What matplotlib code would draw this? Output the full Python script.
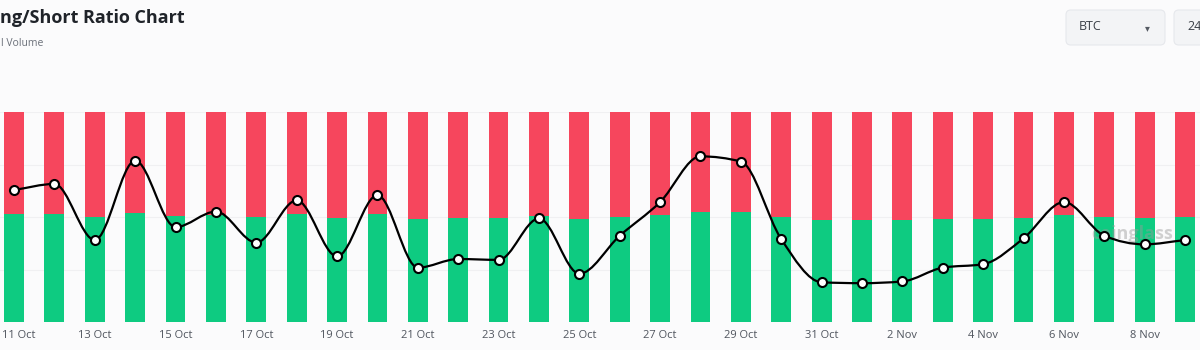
# Long/Short ratio chart (BTC, 24h) - bars for long/short share, smooth line for the ratio
import numpy as np
from matplotlib import pyplot as plt
from matplotlib import transforms
from matplotlib.path import Path
from matplotlib.patches import PathPatch, FancyBboxPatch

plt.rcParams['font.family'] = ['Open Sans', 'DejaVu Sans']

# --- data ---
dates = ['11 Oct', '12 Oct', '13 Oct', '14 Oct', '15 Oct', '16 Oct', '17 Oct', '18 Oct',
         '19 Oct', '20 Oct', '21 Oct', '22 Oct', '23 Oct', '24 Oct', '25 Oct', '26 Oct',
         '27 Oct', '28 Oct', '29 Oct', '30 Oct', '31 Oct', '1 Nov', '2 Nov', '3 Nov',
         '4 Nov', '5 Nov', '6 Nov', '7 Nov', '8 Nov', '9 Nov']
long_pct = [51.3, 51.4, 50.1, 52.0, 50.3, 51.0, 50.1, 51.4, 49.7, 51.3,
            49.0, 49.7, 49.7, 50.5, 48.9, 49.8, 51.0, 52.2, 52.2, 50.1,
            48.6, 48.6, 48.8, 48.9, 48.9, 49.7, 51.0, 50.1, 49.7, 50.1]
short_pct = [100 - v for v in long_pct]
ls_ratio = [1.053, 1.060, 0.995, 1.087, 1.010, 1.028, 0.992, 1.041, 0.976, 1.047,
            0.963, 0.973, 0.972, 1.020, 0.956, 1.000, 1.039, 1.092, 1.086, 0.996,
            0.946, 0.945, 0.947, 0.963, 0.967, 0.997, 1.039, 1.000, 0.990, 0.995]

GREEN = '#0ecb81'
RED = '#f6465d'
BG = '#fbfbfc'


def monotone_path(xs, ys):
    """Cubic bezier path through the points with monotone-x tangents (no overshoot)."""
    xs = np.asarray(xs, float)
    ys = np.asarray(ys, float)
    h = np.diff(xs)
    s = np.diff(ys) / h
    t = np.zeros_like(ys)
    t[0], t[-1] = s[0], s[-1]
    for i in range(1, len(ys) - 1):
        if s[i - 1] * s[i] <= 0:
            t[i] = 0.0
        else:
            p = (s[i - 1] + s[i]) / 2
            t[i] = np.sign(s[i]) * min(abs(s[i - 1]), abs(s[i]), 0.5 * abs(p)) * 2
    verts = [(xs[0], ys[0])]
    codes = [Path.MOVETO]
    for i in range(len(xs) - 1):
        d = h[i] / 3
        verts += [(xs[i] + d, ys[i] + d * t[i]),
                  (xs[i + 1] - d, ys[i + 1] - d * t[i + 1]),
                  (xs[i + 1], ys[i + 1])]
        codes += [Path.CURVE4] * 3
    return Path(verts, codes)


fig = plt.figure(figsize=(12, 3.5), dpi=100)
fig.patch.set_facecolor(BG)

ax = fig.add_axes([0, 28 / 350, 1, 210 / 350])
ax.set_facecolor(BG)
x = np.arange(len(dates))

ax.bar(x, long_pct, width=0.49, color=GREEN, zorder=2)
ax.bar(x, short_pct, bottom=long_pct, width=0.49, color=RED, zorder=2)
ax.set_ylim(0, 100)
ax.set_xlim(-0.347, 29.37)
for gy in [25, 50, 75, 100]:
    ax.axhline(gy, color='#f0f0f2', lw=0.8, zorder=1)

ax.set_xticks(x[::2])
ax.set_xticklabels(dates[::2], fontsize=8, color='#50555e')
ax.tick_params(axis='x', length=0, pad=6)
ax.set_yticks([])
for sp in ax.spines.values():
    sp.set_visible(False)
# first label sits on the left edge, nudge it in a bit so it is not clipped
first = ax.get_xticklabels()[0]
first.set_transform(first.get_transform() + transforms.ScaledTranslation(5 / 100, 0, fig.dpi_scale_trans))

# watermark
ax.text(27.7, 42, 'coinglass', fontsize=13, color='#9a9a9a', alpha=0.45,
        ha='center', va='center', zorder=3, fontweight='bold')

# ratio line on its own hidden axis
ax2 = ax.twinx()
ax2.set_ylim(0.900, 1.1434)
ax2.set_yticks([])
for sp in ax2.spines.values():
    sp.set_visible(False)
ax2.add_patch(PathPatch(monotone_path(x, ls_ratio), fill=False, ec='black', lw=1.6, zorder=4))
ax2.plot(x, ls_ratio, ls='none', marker='o', ms=6.5, mfc='white', mec='black', mew=1.5, zorder=5)

# header (the screenshot is cropped on the left, only this part is visible)
fig.text(0.5 / 1200, 1 - 18 / 350, 'ng/Short Ratio Chart', ha='left', va='center',
         fontsize=13, fontweight='bold', color='#1f2329')
fig.text(1 / 1200, 1 - 44 / 350, 'l Volume', ha='left', va='center',
         fontsize=7.5, color='#6b7079')

# dropdown boxes top right
asp = 1200 / 350
for x0, x1, label in [(1066, 1165, 'BTC'), (1174, 1230, '24')]:
    box = FancyBboxPatch((x0 / 1200, 1 - 45 / 350), (x1 - x0) / 1200, 35 / 350,
                         boxstyle='round,pad=0,rounding_size=0.004', mutation_aspect=asp,
                         transform=fig.transFigure, fc='#f3f4f6', ec='#e6e8ec', lw=0.8)
    fig.patches.append(box)
    fig.text((x0 + 13) / 1200, 1 - 27 / 350, label, ha='left', va='center',
             fontsize=9, color='#3a3f47')
fig.text(1147 / 1200, 1 - 28 / 350, '▾', ha='center', va='center', fontsize=7,
         color='#555a63', family='DejaVu Sans')

plt.savefig('out.png', dpi=100, facecolor=BG)
plt.close()
